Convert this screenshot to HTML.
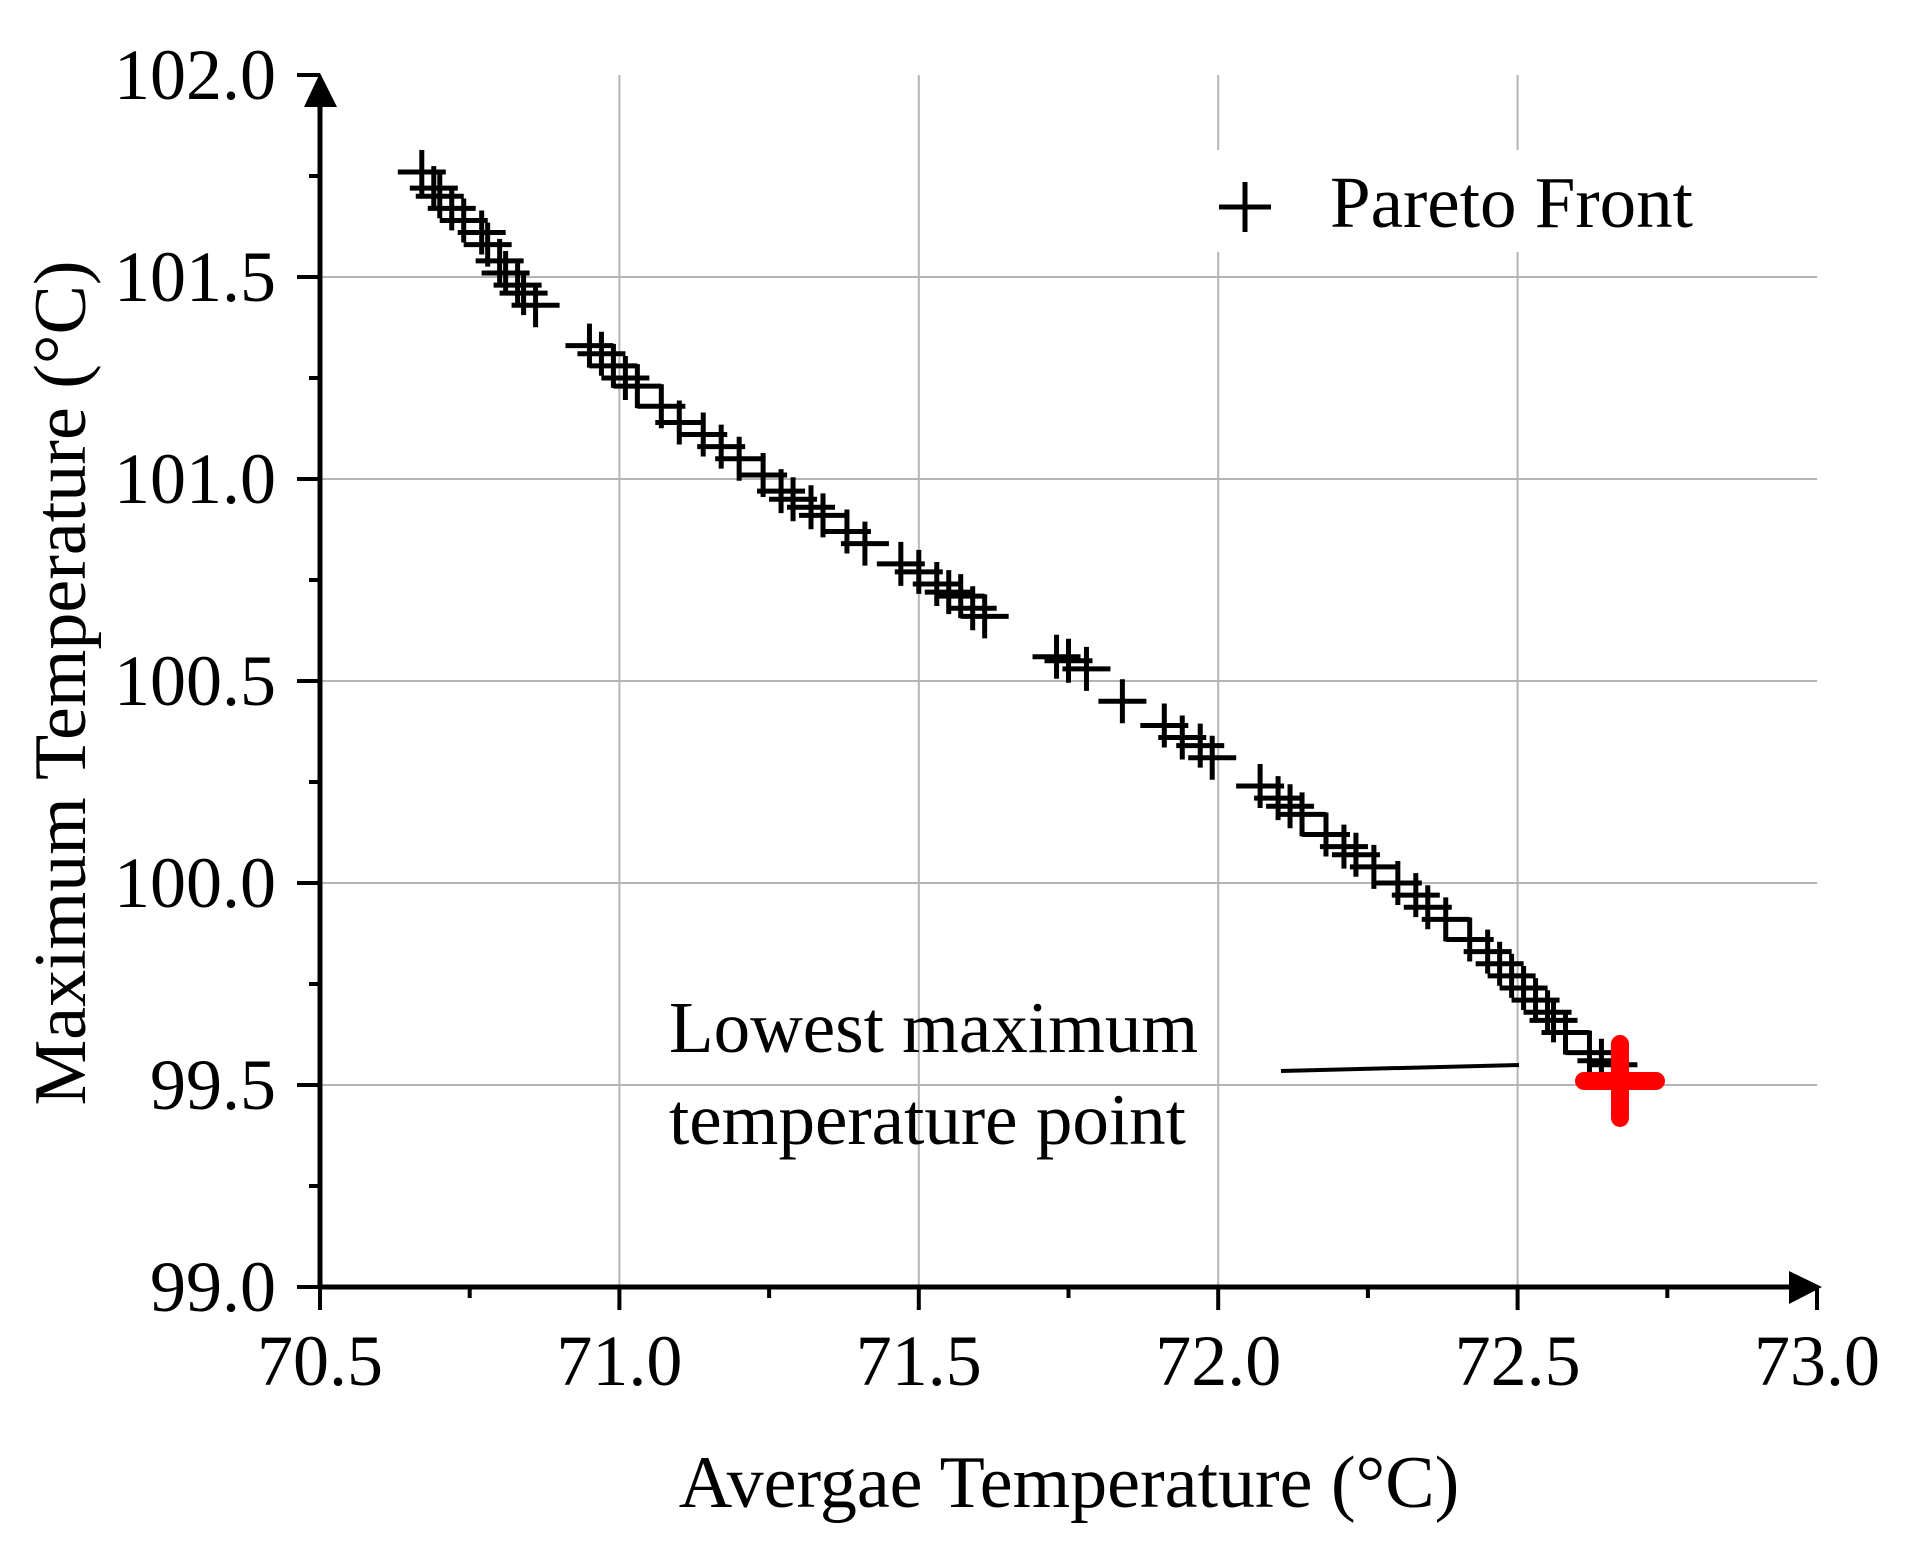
<!DOCTYPE html>
<html><head><meta charset="utf-8"><style>
html,body{margin:0;padding:0;background:#fff;}
svg{display:block;font-family:"Liberation Serif",serif;}
</style></head><body>
<svg id="chart" width="1913" height="1551" viewBox="0 0 1913 1551" xmlns="http://www.w3.org/2000/svg">
<rect width="1913" height="1551" fill="#fff"/>
<g id="grid"></g>
<g id="pts"></g>
<g id="axes"></g>
<rect x="1213" y="150" width="492" height="102" fill="#fff"/>
<g>
<path d="M1219 207H1271M1245 182V232" stroke="#000" stroke-width="5"/>
<text x="1330" y="227" font-size="73">Pareto Front</text>
</g>
<text x="669" y="1052" font-size="73">Lowest maximum</text>
<text x="669" y="1144" font-size="73">temperature point</text>
<line x1="1281" y1="1071" x2="1519" y2="1065" stroke="#000" stroke-width="4"/>
<text x="1069" y="1507" font-size="74" text-anchor="middle">Avergae Temperature (°C)</text>
<text transform="translate(85,683) rotate(-90)" font-size="74" text-anchor="middle">Maximum Temperature (°C)</text>
</svg>
<script>
const xs = [70.67,70.69,70.70,70.72,70.74,70.77,70.78,70.80,70.81,70.83,70.84,70.86,
70.95,70.97,70.99,71.01,71.03,71.07,71.10,71.14,71.17,71.20,71.24,71.27,71.29,71.32,71.34,71.38,71.41,71.47,71.50,71.53,71.55,71.57,71.59,71.61,
71.73,71.75,71.78,71.84,71.91,71.94,71.97,71.99,72.07,72.10,72.12,72.14,72.18,72.21,72.23,72.26,72.30,72.33,72.35,72.38,72.42,72.45,72.47,72.49,72.51,72.53,72.55,72.56,72.58,72.62,72.64,72.66];
const ys = [101.76,101.72,101.70,101.67,101.64,101.61,101.58,101.54,101.51,101.48,101.46,101.43,
101.33,101.31,101.28,101.25,101.23,101.18,101.14,101.11,101.08,101.05,101.01,100.97,100.95,100.93,100.91,100.87,100.84,100.79,100.77,100.74,100.72,100.71,100.68,100.66,
100.56,100.55,100.53,100.45,100.39,100.36,100.34,100.31,100.24,100.21,100.19,100.17,100.12,100.09,100.07,100.04,100.00,99.97,99.94,99.91,99.86,99.83,99.80,99.77,99.74,99.71,99.68,99.66,99.63,99.58,99.56,99.55];
const bestX = [72.671];
const bestY = [99.51];
const xTicks = ["70.5","71.0","71.5","72.0","72.5","73.0"];
const yTicks = ["99.0","99.5","100.0","100.5","101.0","101.5","102.0"];

const NS="http://www.w3.org/2000/svg";
const X0=70.5,X1=73.0,PX0=320,PX1=1817;
const Y0=99.0,Y1=102.0,PY0=1287,PY1=75;
function sx(v){return PX0+(v-X0)/(X1-X0)*(PX1-PX0);}
function sy(v){return PY0-(v-Y0)/(Y1-Y0)*(PY0-PY1);}
function mk(tag,attrs,parent){const e=document.createElementNS(NS,tag);for(const k in attrs)e.setAttribute(k,attrs[k]);parent.appendChild(e);return e;}
const grid=document.getElementById('grid'),axes=document.getElementById('axes'),pts=document.getElementById('pts');

xTicks.forEach((t,i)=>{const v=parseFloat(t);const x=sx(v);
 if(i>0&&i<xTicks.length-1){const g=mk('line',{x1:x,y1:PY1,x2:x,y2:PY0,stroke:'#b4b4b4','stroke-width':2},grid);
 
 }
 const tk=mk('line',{x1:x,y1:PY0,x2:x,y2:PY0+23,stroke:'#000','stroke-width':4},axes);
 
 
 if(i<xTicks.length-1){const m=sx(v+0.25);const mt=mk('line',{x1:m,y1:PY0,x2:m,y2:PY0+11,stroke:'#000','stroke-width':4},axes);
 
 }
 const tl=mk('text',{x:x,y:1385,'font-size':72,'text-anchor':'middle'},axes);tl.textContent=t;
 
 
});
yTicks.forEach((t,i)=>{const v=parseFloat(t);const y=sy(v);
 if(i>0&&i<yTicks.length-1){const g=mk('line',{x1:PX0,y1:y,x2:PX1,y2:y,stroke:'#b4b4b4','stroke-width':2},grid);
 
 }
 const tk=mk('line',{x1:PX0-23,y1:y,x2:PX0,y2:y,stroke:'#000','stroke-width':4},axes);
 
 
 if(i<yTicks.length-1){const m=sy(v+0.25);const mt=mk('line',{x1:PX0-11,y1:m,x2:PX0,y2:m,stroke:'#000','stroke-width':4},axes);
 
 }
 const tl=mk('text',{x:276,y:y+24,'font-size':72,'text-anchor':'end'},axes);tl.textContent=t;
 
 
});
const xa=mk('path',{d:`M${PX0} ${PY0}H1790`,stroke:'#000','stroke-width':5},axes);


const xh=mk('path',{d:'M1789 1271L1822 1287L1789 1304Z',fill:'#000'},axes);


const ya=mk('path',{d:`M${PX0} ${PY0}V105`,stroke:'#000','stroke-width':5},axes);


const yh=mk('path',{d:'M304 107L320 73L337 107Z',fill:'#000'},axes);



xs.forEach((v,i)=>{const x=sx(v),y=sy(ys[i]);
 const p=mk('path',{d:`M${x-24} ${y}H${x+24}M${x} ${y-22}V${y+22}`,stroke:'#000','stroke-width':5},pts);
 
 
});
bestX.forEach((v,i)=>{const x=sx(v),y=sy(bestY[i]);
 const p=mk('path',{d:`M${x-36} ${y}H${x+36}M${x} ${y-37}V${y+37}`,stroke:'#ff0000','stroke-width':18,'stroke-linecap':'round'},pts);
 
 
});
</script>
</body></html>
